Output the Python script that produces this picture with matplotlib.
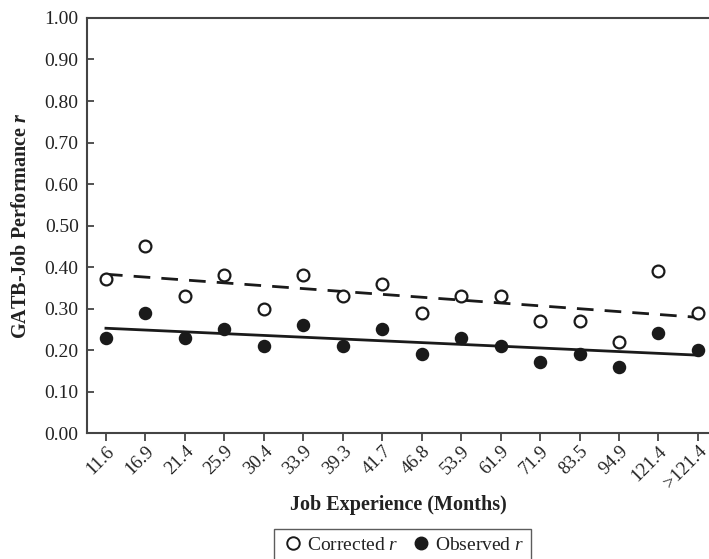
import numpy as np
import matplotlib
matplotlib.use("Agg")
import matplotlib.pyplot as plt
from matplotlib.lines import Line2D

plt.rcParams['font.family'] = ['Liberation Serif', 'DejaVu Serif']
plt.rcParams['mathtext.fontset'] = 'custom'
plt.rcParams['mathtext.it'] = 'Liberation Serif:italic'
plt.rcParams['mathtext.bf'] = 'Liberation Serif:bold:italic'

experiencia = ['11.6', '16.9', '21.4', '25.9', '30.4', '33.9', '39.3', '41.7',
               '46.8', '53.9', '61.9', '71.9', '83.5', '94.9', '121.4', '>121.4']
corregido = [0.37, 0.45, 0.33, 0.38, 0.30, 0.38, 0.33, 0.36,
             0.29, 0.33, 0.33, 0.27, 0.27, 0.22, 0.39, 0.29]
observado = [0.23, 0.29, 0.23, 0.25, 0.21, 0.26, 0.21, 0.25,
             0.19, 0.23, 0.21, 0.17, 0.19, 0.16, 0.24, 0.20]

x = np.arange(len(experiencia))
fs = 14

fig = plt.figure(figsize=(7.09, 5.59), dpi=100)
ax = fig.add_axes([0.1227, 0.2254, 0.8773, 0.7424])

# lineas de tendencia (ajuste lineal)
m1, b1 = np.polyfit(x, corregido, 1)
m2, b2 = np.polyfit(x, observado, 1)
ax.plot(x, m1 * x + b1, color='#1a1a1a', lw=2, dashes=(6, 4), zorder=2)
ax.plot(x, m2 * x + b2, color='#1a1a1a', lw=2, zorder=2)

ax.plot(x, corregido, 'o', ms=8.5, mfc='white', mec='#1a1a1a', mew=1.6, zorder=3)
ax.plot(x, observado, 'o', ms=8.5, mfc='#1a1a1a', mec='#1a1a1a', mew=1.2, zorder=3)

ax.set_xlim(-0.48, 15.28)
ax.set_ylim(0, 1.0)
ax.set_yticks(np.arange(0, 1.01, 0.1))
ax.set_yticklabels([f"{v:.2f}" for v in np.arange(0, 1.01, 0.1)], fontsize=fs)
ax.set_xticks(x)
ax.set_xticklabels(experiencia, rotation=45, ha='right', va='top',
                   rotation_mode='anchor', fontsize=13.5)

ax.tick_params(axis='y', direction='in', length=5, width=1.3, colors='#444444',
               labelcolor='#222222', pad=6)
ax.tick_params(axis='x', direction='out', length=6, width=1.3, colors='#444444',
               labelcolor='#222222', pad=1)

ax.spines['right'].set_visible(False)
for s in ['left', 'top', 'bottom']:
    ax.spines[s].set_color('#444444')
    ax.spines[s].set_linewidth(1.5)

ax.set_ylabel('GATB-Job Performance $\\mathbf{r}$', fontsize=14.5, fontweight='bold',
              color='#222222', labelpad=10)
ax.set_xlabel('Job Experience (Months)', fontsize=14.5, fontweight='bold',
              color='#222222', labelpad=2)

handles = [
    Line2D([], [], ls='none', marker='o', ms=9, mfc='white', mec='#1a1a1a', mew=1.4),
    Line2D([], [], ls='none', marker='o', ms=9, mfc='#1a1a1a', mec='#1a1a1a'),
]
leg = fig.legend(handles, ['Corrected $r$', 'Observed $r$'], ncol=2,
                 loc='center', bbox_to_anchor=(0.568, 0.025), fontsize=fs,
                 frameon=True, fancybox=False, edgecolor='#333333',
                 handletextpad=0.1, columnspacing=0.6, handlelength=1.2,
                 borderpad=0.35)
leg.get_frame().set_linewidth(1.0)
for t in leg.get_texts():
    t.set_color('#222222')

fig.savefig('out.png', dpi=100)
